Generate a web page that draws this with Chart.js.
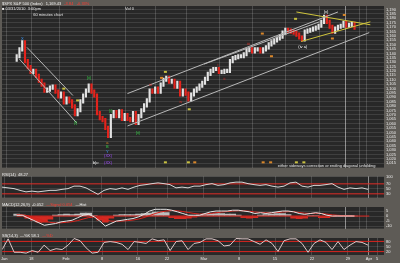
<!DOCTYPE html>
<html>
<head>
<meta charset="utf-8">
<script src="https://cdn.jsdelivr.net/npm/chart.js@4"></script>
<style>
  html, body { margin: 0; padding: 0; background: #5e5b56; }
  #wrap { position: relative; width: 400px; height: 263px; overflow: hidden; }
  canvas { position: absolute; left: 0; }
</style>
</head>
<body>
<div id="wrap">
  <canvas id="mainChart" width="400" height="172" style="top:0"></canvas>
  <canvas id="rsiChart" width="400" height="30" style="top:172px"></canvas>
  <canvas id="macdChart" width="400" height="31" style="top:202px"></canvas>
  <canvas id="stoChart" width="400" height="30" style="top:233px"></canvas>
</div>
<script>
// Hourly closes, one every ~3 px (mid Jan -> Mar 31 2010)
const firstOpen = 1133.0;
const closes = [
  1136.8, 1144.7, 1152.5, 1131.3, 1124.5, 1118.9, 1120.1, 1114.5, 1108.9, 1104.4,
  1097.7, 1098.8, 1101.0, 1102.2, 1096.6, 1091.0, 1094.3, 1084.3, 1088.7, 1085.4,
  1079.8, 1070.8, 1075.3, 1085.4, 1092.1, 1097.7, 1103.3, 1096.6, 1092.1, 1072.0,
  1066.4, 1064.1, 1055.2, 1046.2, 1068.6, 1073.1, 1068.6, 1074.2, 1065.3, 1069.7,
  1065.3, 1064.1, 1072.0, 1060.8, 1068.6, 1075.3, 1080.9, 1086.5, 1097.7, 1096.6,
  1099.9, 1096.6, 1104.4, 1110.0, 1112.2, 1107.8, 1108.9, 1102.2, 1106.6, 1093.2,
  1097.7, 1094.3, 1087.6, 1093.2, 1097.7, 1099.9, 1103.3, 1106.6, 1111.1, 1116.7,
  1120.1, 1122.3, 1122.3, 1118.9, 1118.9, 1120.1, 1120.1, 1131.3, 1134.6, 1135.7,
  1136.8, 1136.8, 1139.1, 1143.6, 1144.7, 1142.4, 1144.7, 1144.7, 1142.4, 1144.7,
  1146.9, 1150.3, 1152.5, 1154.7, 1157.0, 1159.2, 1163.7, 1167.0, 1165.9, 1164.8,
  1163.7, 1161.5, 1158.1, 1155.9, 1164.8, 1165.9, 1167.0, 1168.2, 1169.3, 1171.5,
  1176.0, 1181.6, 1176.0, 1170.4, 1164.8, 1168.2, 1170.4, 1171.5, 1174.9, 1171.5,
  1172.6, 1173.8, 1169.4
];

// indicators, one value every 2 bars
const rsi = [57, 54, 51, 44, 38, 41, 38, 41, 44, 44, 48, 51, 61, 61, 54, 41, 28, 44, 51, 48,
  54, 48, 57, 64, 67, 71, 74, 71, 67, 54, 57, 54, 61, 61, 67, 71, 64, 67, 74, 77,
  77, 71, 67, 64, 67, 61, 57, 61, 74, 77, 61, 57, 64, 64, 67, 71, 57, 48, 54, 51, 54, 48];
const macd = [0.8, 0.8, -1.7, -4.2, -6.7, -9.2, -8.3, -7.5, -5.8, -5.0, -4.2, -1.7, 0.8, 1.7, -0.8,
  -5.0, -10.0, -7.5, -5.0, -4.2, -3.3, -2.5, -0.8, 1.7, 5.0, 6.7, 6.7, 6.7, 5.8, 4.2,
  2.5, 0.8, 0.8, 0.8, 2.5, 4.2, 5.0, 5.0, 5.0, 5.8, 5.8, 5.0, 4.2, 2.5, 3.3, 2.5,
  3.3, 4.2, 5.0, 5.0, 4.2, 2.5, 1.7, 2.5, 3.3, 2.5, 0.8, 0, 0, 0, 0, 0];
const macdSignal = [1.5, 1.2, 0.3, -1.2, -3.0, -5.0, -6.3, -6.9, -6.7, -6.2, -5.6, -4.5, -3.0, -1.5, -0.9,
  -1.6, -3.5, -5.0, -5.2, -5.0, -4.6, -4.0, -3.0, -1.5, 0.5, 2.5, 4.0, 5.0, 5.5, 5.2,
  4.5, 3.5, 2.6, 2.0, 2.0, 2.6, 3.3, 4.0, 4.5, 5.0, 5.3, 5.2, 4.8, 4.0, 3.6, 3.2,
  3.2, 3.5, 4.0, 4.4, 4.3, 3.5, 2.8, 2.6, 2.8, 2.6, 1.9, 1.2, 0.7, 0.4, 0.2, 0.1];
const macdHist = [2, 1, -2, -4, -6, -6, -3, 1, 1.5, 2, 1.5, 2, 3, 3, 0.5, -4, -6, -2, 1, 1.5,
  1.5, 1.5, 2, 2.5, 3, 4, 4, 3.5, -1.5, -2.5, -2.5, -2, -1, 1, 2, 2.5, 2.5, 2.5, 2, 2,
  1, -1.5, -2, -1.5, 1, 1.5, 2, 2.5, 2.5, 1.5, -2, -2.5, -2, 0.5, 0.5, -1.5, -1.5, -0.5, 0.3, 0.2, 0.2, 0];
const sto = [32, 95, 16, 16, 11, 26, 16, 58, 26, 37, 32, 58, 97, 84, 42, 11, 16, 74, 79, 74,
  63, 32, 79, 74, 68, 95, 84, 89, 26, 79, 84, 32, 68, 74, 95, 95, 84, 53, 58, 97,
  95, 95, 79, 63, 89, 68, 21, 84, 95, 95, 68, 16, 68, 89, 74, 32, 79, 32, 58, 79, 74, 58];

// axes
const xTickIdx = [0.7, 9.7, 21.3, 33.3, 45.3, 55, 67.3, 79, 91, 103.3, 115.3, 122.3, 125];
const xTickText = ['Jan', '18', 'Feb', '8', '16', '22', 'Mar', '8', '15', '22', '29', 'Apr', '5'];
const priceTicks = [1190, 1185, 1180, 1175, 1170, 1165, 1160, 1155, 1150, 1145, 1140, 1135, 1130,
  1125, 1120, 1115, 1110, 1105, 1100, 1095, 1090, 1085, 1080, 1075, 1070, 1065, 1060, 1055,
  1050, 1045, 1040, 1035, 1030, 1025, 1020, 1015];
const rsiTicks = [100, 70, 50, 30];
const rsiLevels = [70, 30];
const macdTicks = [5, 0, -5, -10];
const stoTicks = [80, 50, 20];
const stoLevels = [80, 20];

// trend lines: [startIdx, startPrice, endIdx, endPrice]
const grayLines = [
  [3.7, 1146.9, 20.3, 1092.1],
  [1.0, 1133.5, 21.7, 1060.8],
  [40.0, 1094.3, 116.0, 1187.2],
  [40.0, 1057.4, 127.3, 1163.7],
  [67.7, 1127.9, 109.3, 1176.0]
];
const yellowLines = [
  [101.0, 1187.2, 127.7, 1172.6],
  [102.7, 1153.6, 127.7, 1176.0]
];

// wave count labels ('' = small marker box)
const waveText = ['X', '[i]', '[ii]', '[i]', '[ii]', 'a', 'B', 'Y', '(XX)', '(XX)', 'b|c:',
  'iii', 'iv', 'i', 'ii', 'iii', '(iv a)', '(v)',
  '', '', '', '', '', '', '', '', '', '',
  '', '', '', '', '', '', ''];
const waveIdx = [2, 21.3, 26, 34, 43.7, 32.7, 32.7, 32.7, 33, 33, 28.7,
  48.3, 59.3, 72.7, 75, 83.7, 103.3, 111.7,
  53.7, 62.3, 100.7, 17, 22, 88.7, 92, 114, 118.3, 52.3,
  53.7, 62, 64.3, 89, 91.7, 101, 103.7];
const wavePrice = [1157.0, 1060.8, 1112.2, 1074.2, 1049.6, 1038.4, 1033.9, 1028.3, 1023.9, 1014.9, 1014.9,
  1104.4, 1084.3, 1126.8, 1111.1, 1151.4, 1146.9, 1187.2,
  1119.0, 1076.4, 1179.4, 1099.9, 1086.5, 1162.6, 1136.8, 1157.0, 1183.8, 1112.2,
  1016.0, 1016.0, 1016.0, 1016.0, 1016.0, 1016.0, 1016.0];
const waveColor = ['#3d9bff', '#35c845', '#35c845', '#35c845', '#35c845', '#e08a2a', '#35c845', '#3d9bff',
  '#a24cff', '#a24cff', '#ffffff',
  '#e0302a', '#e0302a', '#e0302a', '#e0302a', '#e0302a', '#ffffff', '#ffffff',
  '#c8c040', '#c8c040', '#c8c040', '#c8c040', '#c8c040', '#d8862a', '#d8862a', '#d8862a', '#d8862a', '#d8862a',
  '#c8c040', '#c8c040', '#d8862a', '#d8862a', '#d8862a', '#c8c040', '#c8c040'];

const X_MAX = 127.33;
const WICK = 2; // hourly bars reach a little past the closes on either side
const FRAME = '#5e5b56';
const PLOT_BG = '#282828';
const GRID_H = 'rgba(255,255,255,0.11)';
const GRID_V = 'rgba(255,255,255,0.16)';
const TICK_COLOR = '#ececec';
const RED = '#d8221c';
const SMALL_FONT = '4px "Liberation Sans", Arial, sans-serif';

function framePlugin(bandH, parts) {
  return {
    id: 'frame',
    beforeDraw(chart) {
      const { ctx, chartArea: a, width, height } = chart;
      ctx.save();
      ctx.fillStyle = FRAME;
      ctx.fillRect(0, 0, width, height);
      ctx.fillStyle = PLOT_BG;
      ctx.fillRect(a.left, a.top, a.right - a.left, a.bottom - a.top);
      ctx.restore();
    },
    afterDraw(chart) {
      const ctx = chart.ctx;
      ctx.save();
      ctx.font = SMALL_FONT;
      ctx.textBaseline = 'middle';
      let x = 2;
      parts.forEach(p => {
        ctx.fillStyle = p.color;
        ctx.fillText(p.text, x, bandH / 2 + 0.5);
        x += ctx.measureText(p.text).width + 3;
      });
      ctx.restore();
    }
  };
}

function xAxis(showLabels) {
  return {
    type: 'linear', min: 0, max: X_MAX,
    afterBuildTicks: s => { s.ticks = xTickIdx.map(v => ({ value: v })); },
    afterFit: s => { s.height = showLabels ? 8 : 0; },
    grid: { color: c => (c.index === 11 ? '#8e8e8e' : GRID_V), drawTicks: false },
    border: { display: false },
    ticks: {
      display: showLabels, autoSkip: false, maxRotation: 0, padding: 1,
      color: TICK_COLOR, font: { size: 4 },
      callback: (v, i) => xTickText[i]
    }
  };
}

function yAxis(min, max, tickVals, fmt) {
  return {
    position: 'right', min, max,
    afterBuildTicks: s => { s.ticks = tickVals.map(v => ({ value: v })); },
    afterFit: s => { s.width = 16; },
    grid: { color: GRID_H, drawTicks: false },
    border: { display: false },
    ticks: { autoSkip: false, padding: 2, color: TICK_COLOR, font: { size: 4 }, callback: fmt }
  };
}

function baseOptions(padTop, padBottom, showX, y) {
  return {
    responsive: false,
    animation: false,
    events: [],
    layout: { padding: { left: 2, right: 0, top: padTop, bottom: padBottom } },
    plugins: { legend: { display: false }, tooltip: { enabled: false } },
    scales: { x: xAxis(showX), y }
  };
}

function segment(l, color) {
  return {
    type: 'line', order: 0,
    data: [{ x: l[0], y: l[1] }, { x: l[2], y: l[3] }],
    borderColor: color, borderWidth: 1, pointRadius: 0
  };
}

function level(v) {
  return {
    type: 'line', order: 2,
    data: [{ x: 0, y: v }, { x: X_MAX, y: v }],
    borderColor: RED, borderWidth: 1, pointRadius: 0
  };
}

// ---- main price panel ----
const prevClose = i => (i ? closes[i - 1] : firstOpen);
const barData = closes.map((c, i) => ({
  x: i,
  y: [Math.min(prevClose(i), c) - WICK, Math.max(prevClose(i), c) + WICK]
}));
const barColors = closes.map((c, i) => (c >= prevClose(i) ? '#e2e2e2' : '#e3231c'));

const waveLabels = {
  id: 'waveLabels',
  afterDatasetsDraw(chart) {
    const { ctx, scales } = chart;
    ctx.save();
    ctx.font = SMALL_FONT;
    ctx.textAlign = 'center';
    ctx.textBaseline = 'middle';
    waveText.forEach((t, i) => {
      const x = scales.x.getPixelForValue(waveIdx[i]);
      const y = scales.y.getPixelForValue(wavePrice[i]);
      ctx.fillStyle = waveColor[i];
      if (t === '') {
        ctx.fillRect(x - 1.5, y - 1, 3, 2);
      } else {
        ctx.fillText(t, x, y);
      }
    });
    ctx.textAlign = 'left';
    ctx.fillStyle = '#e8e8e8';
    ctx.fillText('60 minutes chart', scales.x.getPixelForValue(6), scales.y.getPixelForValue(1183.8));
    ctx.fillText('■ 03/31/2010  3:00pm', 2, 8.5);
    ctx.fillText('Vol 0', 125, 8.5);
    ctx.fillText('either sideways correction or ending diagonal unfolding',
      scales.x.getPixelForValue(94.3), scales.y.getPixelForValue(1011.8));
    ctx.restore();
  }
};

new Chart(document.getElementById('mainChart'), {
  type: 'bar',
  data: {
    datasets: [
      ...grayLines.map(l => segment(l, '#b8b8b8')),
      ...yellowLines.map(l => segment(l, '#cfc43c')),
      {
        type: 'bar', order: 1,
        data: barData,
        backgroundColor: barColors,
        barThickness: 1.5,
        borderWidth: 0
      }
    ]
  },
  options: baseOptions(6, 1, false,
    yAxis(1010, 1194, priceTicks, v => v.toLocaleString('en-US'))),
  plugins: [framePlugin(6, [
    { text: '$SPX S&P 500 (Index)', color: '#f2f2f2' },
    { text: '1,169.43', color: '#f2f2f2' },
    { text: '-3.84   -0.33%', color: '#ff3b30' }
  ]), waveLabels]
});

// ---- RSI ----
new Chart(document.getElementById('rsiChart'), {
  type: 'line',
  data: {
    datasets: [
      ...rsiLevels.map(level),
      {
        order: 0,
        data: rsi.map((v, j) => ({ x: j * 2, y: v })),
        borderColor: '#d6d6d6', borderWidth: 1, pointRadius: 0
      }
    ]
  },
  options: baseOptions(4, 0, false, yAxis(15, 100, rsiTicks, v => String(v))),
  plugins: [framePlugin(4, [{ text: 'RSI(14)  48.27', color: '#f2f2f2' }])]
});

// ---- MACD ----
new Chart(document.getElementById('macdChart'), {
  type: 'bar',
  data: {
    datasets: [
      {
        type: 'bar', order: 3,
        data: macdHist.map((v, j) => ({ x: j * 2, y: v })),
        backgroundColor: macdHist.map(v => (v >= 0 ? '#bdbdbd' : '#d42a22')),
        barThickness: 6, borderWidth: 0
      },
      level(0),
      {
        type: 'line', order: 1,
        data: macdSignal.map((v, j) => ({ x: j * 2, y: v })),
        borderColor: RED, borderWidth: 1, pointRadius: 0
      },
      {
        type: 'line', order: 0,
        data: macd.map((v, j) => ({ x: j * 2, y: v })),
        borderColor: '#e4e4e4', borderWidth: 1, pointRadius: 0
      }
    ]
  },
  options: baseOptions(5, 0, false, yAxis(-12.5, 9, macdTicks, v => String(v))),
  plugins: [framePlugin(5, [
    { text: 'MACD(12,26,9)  -0.052', color: '#f2f2f2' },
    { text: '—Signal 0.054', color: '#ff3b30' },
    { text: '—Hist', color: '#f2f2f2' }
  ])]
});

// ---- Stochastic ----
new Chart(document.getElementById('stoChart'), {
  type: 'line',
  data: {
    datasets: [
      ...stoLevels.map(level),
      {
        order: 0,
        data: sto.map((v, j) => ({ x: j * 2, y: v })),
        borderColor: '#dcc8c8', borderWidth: 1, pointRadius: 0
      }
    ]
  },
  options: baseOptions(5, 0, true, yAxis(0, 100, stoTicks, v => String(v))),
  plugins: [framePlugin(5, [
    { text: 'SS(14,3)  —%K 58.1', color: '#f2f2f2' },
    { text: '—%D', color: '#ff3b30' }
  ])]
});
</script>
</body>
</html>
